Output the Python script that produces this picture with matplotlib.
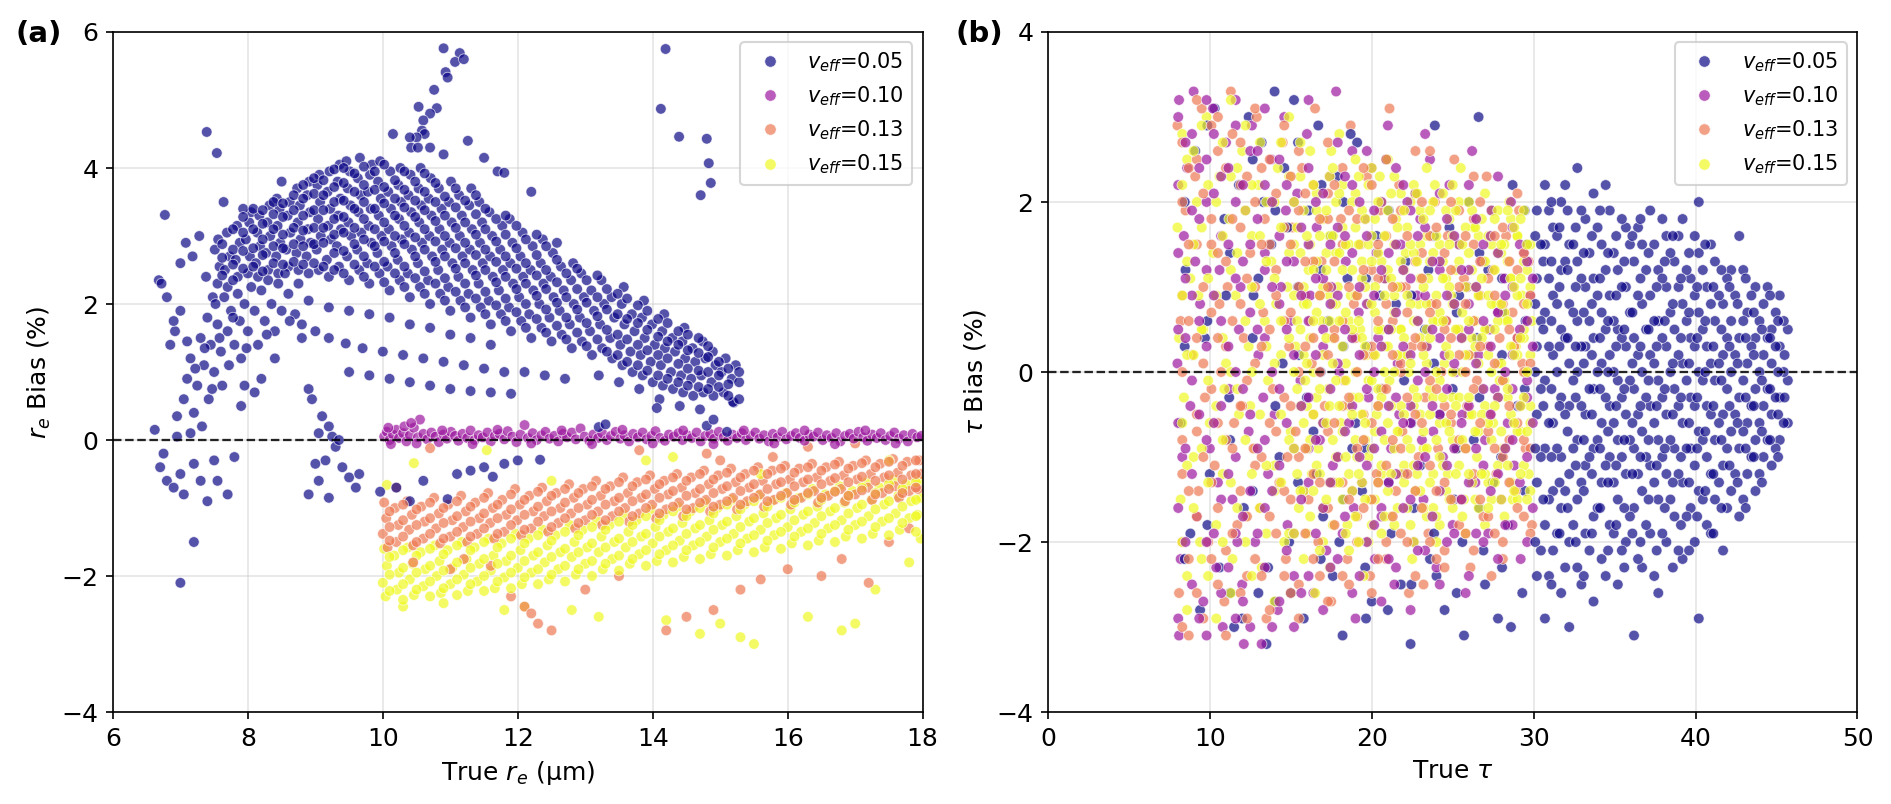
import numpy as np
import matplotlib
matplotlib.use("Agg")
from matplotlib import pyplot as plt
from matplotlib.lines import Line2D

veff_labels = ["0.05", "0.10", "0.13", "0.15"]

# ---- panel (a): true r_e vs r_e bias (%) ----
re_005 = [
    # main arc
    (7.55,2.30),(7.58,2.55),(7.51,2.80),(7.56,2.95),(7.70,2.25),(7.66,2.50),(7.73,2.70),(7.69,3.05),
    (7.85,2.40),(7.82,2.65),(7.88,2.90),(7.84,3.15),(8.00,2.45),(8.03,2.70),(7.97,2.95),(8.02,3.20),(8.05,3.35),
    (8.15,2.40),(8.12,2.60),(8.18,2.85),(8.14,3.05),(8.17,3.30),(8.30,2.50),(8.27,2.75),(8.33,3.00),(8.29,3.20),(8.32,3.45),
    (8.45,2.45),(8.42,2.70),(8.48,2.90),(8.44,3.15),(8.47,3.40),(8.43,3.55),(8.60,2.55),(8.57,2.80),(8.63,3.05),(8.59,3.30),(8.62,3.50),
    (8.75,2.50),(8.72,2.75),(8.78,2.95),(8.74,3.20),(8.77,3.45),(8.73,3.70),(8.90,2.45),(8.87,2.70),(8.93,2.90),(8.89,3.10),(8.92,3.35),(8.88,3.60),(8.91,3.80),
    (9.05,2.50),(9.02,2.80),(9.08,3.00),(9.04,3.25),(9.07,3.50),(9.03,3.75),(9.06,3.90),(9.20,2.40),(9.17,2.65),(9.23,2.95),(9.19,3.15),(9.22,3.40),(9.18,3.65),(9.21,3.95),
    (9.35,2.55),(9.32,2.85),(9.38,3.10),(9.34,3.30),(9.37,3.55),(9.33,3.80),(9.36,4.05),(9.50,2.35),(9.47,2.70),(9.53,3.00),(9.49,3.20),(9.52,3.45),(9.48,3.70),(9.51,3.95),(9.46,4.10),
    (9.65,2.50),(9.62,2.80),(9.68,3.05),(9.64,3.35),(9.67,3.60),(9.63,3.85),(9.66,4.15),(9.80,2.30),(9.77,2.60),(9.83,2.90),(9.79,3.15),(9.82,3.40),(9.78,3.65),(9.81,3.90),(9.84,4.05),
    (9.95,2.45),(9.92,2.75),(9.98,3.00),(9.94,3.30),(9.97,3.55),(9.93,3.80),(9.96,4.10),(10.10,2.20),(10.07,2.55),(10.13,2.85),(10.09,3.10),(10.12,3.40),(10.08,3.65),(10.11,3.95),
    (10.25,2.35),(10.22,2.65),(10.28,2.95),(10.24,3.25),(10.27,3.50),(10.23,3.75),(10.26,4.00),(10.40,2.10),(10.37,2.45),(10.43,2.80),(10.39,3.05),(10.42,3.35),(10.38,3.60),(10.41,3.90),
    (10.55,2.25),(10.52,2.60),(10.58,2.90),(10.54,3.20),(10.57,3.45),(10.53,3.70),(10.56,4.00),(10.70,2.00),(10.67,2.35),(10.73,2.70),(10.69,3.00),(10.72,3.30),(10.68,3.55),(10.71,3.85),
    (10.85,2.15),(10.82,2.50),(10.88,2.80),(10.84,3.10),(10.87,3.40),(10.83,3.70),(11.00,1.90),(10.97,2.25),(11.03,2.60),(10.99,2.90),(11.02,3.20),(10.98,3.50),(11.01,3.80),
    (11.15,2.05),(11.12,2.40),(11.18,2.70),(11.14,3.00),(11.17,3.30),(11.13,3.60),(11.30,1.80),(11.27,2.15),(11.33,2.50),(11.29,2.80),(11.32,3.10),(11.28,3.45),(11.31,3.70),
    (11.45,1.95),(11.42,2.30),(11.48,2.60),(11.44,2.90),(11.47,3.20),(11.43,3.50),(11.60,1.70),(11.57,2.05),(11.63,2.40),(11.59,2.70),(11.62,3.00),(11.58,3.35),
    (11.75,1.85),(11.72,2.20),(11.78,2.50),(11.74,2.80),(11.77,3.15),(11.90,1.60),(11.87,1.95),(11.93,2.30),(11.89,2.60),(11.92,2.90),(11.88,3.25),
    (12.05,1.75),(12.02,2.10),(12.08,2.40),(12.04,2.70),(12.07,3.05),(12.20,1.50),(12.17,1.85),(12.23,2.20),(12.19,2.50),(12.22,2.85),
    (12.35,1.65),(12.32,2.00),(12.38,2.30),(12.34,2.60),(12.37,2.95),(12.50,1.45),(12.47,1.80),(12.53,2.10),(12.49,2.40),(12.52,2.75),
    (12.65,1.55),(12.62,1.90),(12.68,2.20),(12.64,2.55),(12.80,1.35),(12.77,1.70),(12.83,2.00),(12.79,2.35),(12.82,2.60),
    (12.95,1.45),(12.92,1.80),(12.98,2.10),(12.94,2.45),(13.10,1.25),(13.07,1.60),(13.13,1.90),(13.09,2.20),
    (13.25,1.35),(13.22,1.70),(13.28,2.00),(13.24,2.35),(13.40,1.20),(13.37,1.50),(13.43,1.80),(13.39,2.10),
    (13.55,1.10),(13.52,1.40),(13.58,1.70),(13.54,2.00),(13.57,2.25),(13.70,1.00),(13.67,1.30),(13.73,1.60),(13.69,1.85),
    (13.85,0.95),(13.82,1.25),(13.88,1.50),(13.84,1.80),(13.87,2.05),(14.00,0.85),(13.97,1.15),(14.03,1.40),(13.99,1.70),
    (14.15,0.80),(14.12,1.10),(14.18,1.35),(14.14,1.60),(14.17,1.85),(14.30,0.75),(14.27,1.00),(14.33,1.30),(14.29,1.50),
    (14.45,0.70),(14.42,0.95),(14.48,1.20),(14.44,1.45),(14.47,1.65),(14.60,0.65),(14.57,0.90),(14.63,1.15),(14.59,1.35),
    (14.75,0.70),(14.72,0.95),(14.78,1.20),(14.74,1.45),(14.90,0.65),(14.87,0.85),(14.93,1.10),(14.89,1.30),
    (15.05,0.70),(15.02,1.00),(15.08,1.20),(15.20,0.55),(15.17,0.90),(15.23,1.10),
    # rising branch on the left
    (6.62,0.15),(6.68,2.35),(6.72,2.30),(6.80,2.10),(6.85,1.40),(6.92,1.60),(6.95,0.35),(7.00,2.60),(7.05,0.60),(7.08,2.90),
    (7.10,0.90),(7.15,1.20),(7.18,2.70),(7.20,0.40),(7.25,0.80),(7.28,3.00),(7.30,1.50),(7.32,0.20),(7.35,1.10),(7.38,2.40),
    (7.40,1.80),(7.42,0.60),(7.45,1.40),(7.48,2.10),(7.50,1.00),(7.52,2.00),(7.55,1.70),(7.60,1.30),(7.62,0.80),(7.65,2.10),
    (7.70,1.60),(7.72,1.10),(7.75,1.90),(7.80,1.40),(7.85,2.15),(7.88,1.75),(7.90,1.20),(7.95,2.00),(8.00,1.60),(8.05,2.25),
    (8.10,1.90),(8.15,1.40),(8.20,2.20),(8.25,1.75),(8.30,2.35),(8.35,2.00),(8.40,1.60),(8.45,2.30),(8.50,1.90),(8.55,2.45),
    (8.60,2.15),(8.70,1.85),(8.75,2.30),(8.80,1.50),(8.40,1.20),(8.20,0.90),(8.10,0.70),(7.90,0.50),(7.95,0.80),(7.00,1.90),
    (6.90,1.75),(7.10,1.45),(7.22,1.05),(7.36,1.35),(7.58,1.50),(7.78,1.80),(7.98,1.35),(8.28,1.55),(8.62,1.75),(7.47,0.75),
    # stripes under the arc
    (8.90,2.05),(9.20,1.95),(9.50,1.90),(9.80,1.85),(10.10,1.80),(10.40,1.70),(10.70,1.65),(11.00,1.55),(11.30,1.50),(11.60,1.40),
    (8.80,1.70),(9.00,1.60),(9.20,1.50),(9.45,1.42),(9.70,1.35),(10.00,1.30),(10.30,1.25),(10.60,1.20),(10.90,1.15),(11.20,1.10),
    (11.50,1.05),(11.80,1.00),(12.10,1.00),(12.40,0.95),(12.70,0.90),
    (9.50,1.00),(9.80,0.95),(10.10,0.90),(10.40,0.85),(10.70,0.80),(11.00,0.75),(11.30,0.72),(11.60,0.70),(11.90,0.68),
    (13.20,0.95),(13.50,0.85),(13.80,0.75),(14.10,0.60),(14.40,0.50),(14.70,0.45),
    # near / below zero
    (6.70,-0.40),(6.75,-0.20),(6.80,-0.60),(6.90,-0.70),(7.00,-0.50),(7.05,-0.80),(7.00,-2.10),(7.20,-1.50),(7.20,-0.35),(7.30,-0.60),
    (7.40,-0.90),(7.50,-0.30),(7.55,-0.60),(7.70,-0.80),(7.80,-0.25),(6.95,0.05),(7.15,0.10),
    (8.90,0.75),(8.95,0.60),(9.05,0.10),(9.10,0.35),(9.20,0.20),(9.25,0.05),(9.15,-0.30),(9.00,-0.35),(9.05,-0.60),(9.30,-0.10),
    (9.40,-0.40),(9.50,-0.55),(9.60,-0.70),(9.65,-0.50),(9.20,-0.85),(8.90,-0.80),(9.35,0.00),
    (9.96,-0.76),(10.20,-0.70),(10.40,-0.90),(10.60,-0.60),(10.96,-0.87),(11.10,-0.50),(11.30,-0.45),(11.50,-0.40),(11.63,-0.54),
    (11.80,-0.35),(12.00,-0.30),(12.33,-0.29),(13.20,0.19),(13.30,0.23),(14.06,0.47),(14.80,0.21),(14.90,0.30),(15.19,0.56),(15.10,0.12),
    # high outliers
    (7.39,4.53),(7.54,4.22),(7.64,3.50),(8.50,3.80),(6.77,3.31),(7.93,3.40),
    (10.90,5.76),(11.14,5.69),(11.07,5.56),(11.20,5.60),(10.93,5.41),(10.96,5.33),(10.76,5.15),(10.53,4.90),(10.80,4.88),(10.70,4.80),
    (10.60,4.70),(10.58,4.55),(10.62,4.50),(10.50,4.45),(10.15,4.50),(10.40,4.45),(10.42,4.30),(10.52,4.30),(10.70,4.30),(11.26,4.40),
    (10.90,4.20),(11.50,4.15),(11.70,3.95),(11.80,3.93),(12.20,3.65),
    (14.19,5.75),(14.12,4.87),(14.39,4.46),(14.80,4.43),(14.83,4.07),(14.86,3.78),(14.71,3.60),
]
# extra read-offs of the dense arc, as (x, [y, ...]) columns
re_005_cols = [
    (7.62,[2.42,2.68,2.88]),(7.78,[2.35,2.58,2.80,3.10]),(7.93,[2.52,2.78,3.05,3.28]),(8.08,[2.55,2.82,3.10,3.40]),
    (8.22,[2.48,2.72,2.95,3.18,3.38]),(8.38,[2.60,2.85,3.10,3.32,3.50]),(8.52,[2.58,2.82,3.02,3.28,3.48]),
    (8.68,[2.62,2.88,3.12,3.38,3.60]),(8.82,[2.58,2.85,3.08,3.30,3.55,3.75]),(8.98,[2.60,2.88,3.12,3.38,3.62,3.85]),
    (9.12,[2.55,2.90,3.12,3.38,3.60,3.82]),(9.28,[2.50,2.75,3.02,3.25,3.50,3.72,3.98]),(9.42,[2.45,2.78,3.05,3.28,3.52,3.78,4.00]),
    (9.58,[2.58,2.88,3.12,3.40,3.65,3.92]),(9.72,[2.40,2.70,2.95,3.25,3.50,3.75,4.02]),(9.88,[2.55,2.85,3.10,3.40,3.68,3.95]),
    (10.02,[2.32,2.62,2.92,3.20,3.48,3.72,4.05]),(10.18,[2.45,2.75,3.00,3.30,3.55,3.82]),(10.32,[2.25,2.55,2.88,3.15,3.42,3.68,3.95]),
    (10.48,[2.38,2.70,2.98,3.28,3.52,3.80]),(10.62,[2.15,2.48,2.80,3.10,3.38,3.65,3.92]),(10.78,[2.30,2.62,2.92,3.22,3.50,3.78]),
    (10.92,[2.05,2.38,2.70,3.00,3.30,3.58]),(11.08,[2.18,2.52,2.82,3.12,3.42,3.70]),(11.22,[1.95,2.30,2.60,2.90,3.20,3.52]),
    (11.38,[2.08,2.42,2.72,3.02,3.32,3.60]),(11.52,[1.85,2.18,2.50,2.80,3.10,3.40]),(11.68,[1.98,2.32,2.62,2.92,3.25]),
    (11.82,[1.75,2.08,2.40,2.70,3.02,3.30]),(11.98,[1.88,2.22,2.52,2.82,3.15]),(12.12,[1.65,2.00,2.30,2.60,2.95]),
    (12.28,[1.78,2.12,2.42,2.72,3.02]),(12.42,[1.58,1.92,2.22,2.50,2.85]),(12.58,[1.68,2.02,2.32,2.65,2.90]),
    (12.72,[1.48,1.80,2.10,2.45]),(12.88,[1.58,1.92,2.22,2.52]),(13.02,[1.38,1.72,2.02,2.35]),(13.18,[1.48,1.82,2.10,2.42]),
    (13.32,[1.30,1.62,1.92,2.22]),(13.48,[1.25,1.55,1.85,2.15]),(13.62,[1.15,1.48,1.78,2.08]),(13.78,[1.10,1.40,1.72,1.98]),
    (13.92,[1.02,1.32,1.62,1.90]),(14.08,[0.95,1.25,1.52,1.78]),(14.22,[0.90,1.20,1.45,1.72]),(14.38,[0.85,1.12,1.40,1.60]),
    (14.52,[0.80,1.05,1.32,1.55]),(14.68,[0.78,1.02,1.28,1.50]),(14.82,[0.75,1.00,1.22,1.38]),(14.98,[0.78,0.95,1.15]),
    (15.12,[0.65,0.82,1.05]),(15.28,[0.60,0.85,1.00]),
]

re_010 = [
    (10.02,0.05),(10.06,0.12),(10.10,0.00),(10.15,0.08),(10.20,0.15),(10.24,0.03),(10.30,0.10),(10.35,-0.02),(10.40,0.07),(10.46,0.18),
    (10.52,0.04),(10.55,0.30),(10.60,0.09),(10.66,0.01),(10.72,0.11),(10.78,0.05),(10.83,-0.03),(10.90,0.08),(10.95,0.02),(11.01,0.12),
    (11.07,0.06),(11.12,-0.01),(11.18,0.09),(11.25,0.03),(11.30,0.14),(11.36,0.00),(11.42,0.07),(11.48,0.04),(11.55,0.11),(11.60,-0.02),
    (11.66,0.06),(11.73,0.09),(11.80,0.01),(11.85,0.13),(11.92,0.05),(11.98,-0.03),(12.04,0.08),(12.10,0.22),(12.15,0.03),(12.22,0.10),
    (12.28,0.00),(12.35,0.07),(12.41,0.12),(12.47,0.02),(12.54,0.06),(12.60,-0.02),(12.67,0.09),(12.73,0.04),(12.80,0.11),(12.86,0.01),
    (12.93,0.17),(12.99,0.05),(13.06,-0.01),(13.12,0.08),(13.19,0.03),(13.25,0.10),(13.32,0.00),(13.38,0.06),(13.45,0.12),(13.52,0.02),
    (13.58,0.07),(13.65,-0.02),(13.71,0.09),(13.78,0.04),(13.85,0.11),(13.91,0.01),(13.98,0.06),(14.04,0.13),(14.11,0.03),(14.18,-0.01),
    (14.24,0.08),(14.31,0.05),(14.38,0.10),(14.44,0.00),(14.51,0.07),(14.58,0.03),(14.65,0.11),(14.71,-0.02),(14.78,0.06),(14.85,0.09),
    (14.91,0.02),(14.98,0.12),(15.05,0.04),(15.11,-0.01),(15.18,0.08),(15.25,0.03),(15.32,0.10),(15.38,0.00),(15.45,0.06),(15.52,0.11),
    (15.58,0.02),(15.65,0.07),(15.72,-0.02),(15.78,0.09),(15.85,0.04),(15.92,0.12),(15.98,0.01),(16.05,0.06),(16.12,0.10),(16.18,0.03),
    (16.25,-0.01),(16.32,0.08),(16.38,0.05),(16.45,0.11),(16.52,0.00),(16.58,0.07),(16.65,0.03),(16.72,0.10),(16.78,-0.02),(16.85,0.06),
    (16.92,0.09),(16.98,0.02),(17.05,0.12),(17.12,0.04),(17.18,-0.01),(17.25,0.08),(17.32,0.03),(17.38,0.10),(17.45,0.00),(17.52,0.06),
    (17.58,0.11),(17.65,0.02),(17.72,0.07),(17.78,-0.02),(17.85,0.09),(17.92,0.04),(17.98,0.06),
    (10.12,-0.06),(10.50,-0.05),(10.88,0.14),(11.33,-0.06),(11.70,0.15),(12.20,-0.05),(12.65,0.14),(13.10,-0.06),(13.55,0.15),(14.00,-0.05),
    (14.45,0.14),(14.90,-0.06),(15.35,0.14),(15.80,-0.05),(16.25,0.14),(16.70,-0.06),(17.15,0.14),(17.60,-0.05),(10.32,0.20),(10.42,0.25),
    (10.08,0.18),
]

re_013 = [
    (10.02,-0.92),(10.05,-1.15),(10.00,-1.38),(10.07,-1.58),(10.18,-1.00),(10.23,-1.25),(10.20,-1.50),
    (10.36,-0.90),(10.43,-1.10),(10.39,-1.32),(10.45,-1.55),(10.57,-0.98),(10.62,-1.20),(10.60,-1.45),
    (10.76,-0.85),(10.83,-1.08),(10.79,-1.30),(10.85,-1.52),(10.97,-0.95),(11.03,-1.18),(11.00,-1.42),
    (11.16,-0.82),(11.23,-1.05),(11.19,-1.28),(11.25,-1.50),(11.37,-0.92),(11.43,-1.15),(11.40,-1.38),
    (11.56,-0.78),(11.63,-1.00),(11.59,-1.22),(11.65,-1.45),(11.77,-0.88),(11.83,-1.10),(11.80,-1.35),
    (11.96,-0.72),(12.03,-0.95),(11.99,-1.18),(12.05,-1.40),(12.17,-0.82),(12.23,-1.05),(12.20,-1.30),
    (12.36,-0.70),(12.43,-0.90),(12.39,-1.12),(12.45,-1.35),(12.57,-0.78),(12.63,-1.00),(12.60,-1.22),
    (12.76,-0.65),(12.83,-0.85),(12.79,-1.08),(12.85,-1.30),(12.97,-0.72),(13.03,-0.95),(13.00,-1.18),
    (13.16,-0.60),(13.23,-0.82),(13.19,-1.05),(13.25,-1.25),(13.37,-0.68),(13.43,-0.90),(13.40,-1.12),
    (13.56,-0.55),(13.63,-0.78),(13.59,-1.00),(13.65,-1.20),(13.77,-0.62),(13.83,-0.85),(13.80,-1.08),
    (13.96,-0.52),(14.03,-0.72),(13.99,-0.95),(14.05,-1.15),(14.17,-0.60),(14.23,-0.80),(14.20,-1.02),
    (14.36,-0.50),(14.43,-0.70),(14.39,-0.92),(14.45,-1.12),(14.57,-0.55),(14.63,-0.78),(14.60,-1.00),
    (14.76,-0.45),(14.83,-0.65),(14.79,-0.88),(14.85,-1.05),(14.97,-0.52),(15.03,-0.72),(15.00,-0.95),
    (15.16,-0.42),(15.23,-0.62),(15.19,-0.85),(15.25,-1.02),(15.37,-0.50),(15.43,-0.70),(15.40,-0.90),
    (15.56,-0.40),(15.63,-0.60),(15.59,-0.80),(15.65,-0.98),(15.77,-0.45),(15.83,-0.65),(15.80,-0.88),
    (15.96,-0.38),(16.03,-0.58),(15.99,-0.78),(16.05,-0.95),(16.17,-0.42),(16.23,-0.62),(16.20,-0.85),
    (16.36,-0.35),(16.43,-0.55),(16.39,-0.75),(16.45,-0.92),(16.57,-0.40),(16.63,-0.60),(16.60,-0.82),
    (16.76,-0.32),(16.83,-0.52),(16.79,-0.72),(16.85,-0.90),(16.97,-0.38),(17.03,-0.58),(17.00,-0.80),
    (17.16,-0.30),(17.23,-0.50),(17.19,-0.70),(17.25,-0.88),(17.37,-0.35),(17.43,-0.55),(17.40,-0.78),
    (17.56,-0.28),(17.63,-0.48),(17.59,-0.68),(17.65,-0.85),(17.77,-0.32),(17.83,-0.52),(17.80,-0.75),
    (17.95,-0.30),(17.98,-0.50),(17.93,-0.72),
    (10.20,-0.70),(10.70,-0.12),(11.20,-1.75),(11.60,-1.85),(11.90,-2.30),(12.10,-2.45),(12.30,-2.70),(12.50,-2.80),(12.20,-2.55),(13.00,-2.20),
    (13.50,-2.00),(13.80,-0.15),(14.20,-2.80),(14.50,-2.60),(14.80,-0.20),(14.90,-2.50),(15.00,-0.30),(15.30,-2.20),(15.60,-2.05),(15.78,-0.25),
    (16.00,-1.90),(16.50,-2.00),(16.80,-1.75),(17.20,-2.10),(17.50,-1.50),(17.80,-1.30),(16.30,-0.10),(17.00,-0.05),(10.45,-1.80),(11.00,-1.90),
]
re_013_cols = [
    (10.10,[-1.05,-1.28,-1.48]),(10.30,[-0.95,-1.18,-1.42]),(10.50,[-1.02,-1.25,-1.50]),(10.70,[-0.92,-1.15,-1.38]),
    (10.90,[-1.00,-1.22,-1.45]),(11.10,[-0.90,-1.12,-1.35]),(11.30,[-0.98,-1.20,-1.42]),(11.50,[-0.85,-1.08,-1.30]),
    (11.70,[-0.95,-1.15,-1.38]),(11.90,[-0.80,-1.02,-1.25]),(12.10,[-0.88,-1.10,-1.32]),(12.30,[-0.76,-0.98,-1.20]),
    (12.50,[-0.82,-1.05,-1.28]),(12.70,[-0.72,-0.92,-1.15]),(12.90,[-0.78,-1.00,-1.22]),(13.10,[-0.68,-0.88,-1.10]),
    (13.30,[-0.72,-0.95,-1.18]),(13.50,[-0.62,-0.85,-1.05]),(13.70,[-0.68,-0.90,-1.12]),(13.90,[-0.58,-0.80,-1.00]),
    (14.10,[-0.65,-0.85,-1.08]),(14.30,[-0.55,-0.75,-0.98]),(14.50,[-0.60,-0.82,-1.02]),(14.70,[-0.50,-0.72,-0.92]),
    (14.90,[-0.58,-0.78,-0.98]),(15.10,[-0.48,-0.68,-0.90]),(15.30,[-0.55,-0.75,-0.95]),(15.50,[-0.45,-0.65,-0.85]),
    (15.70,[-0.50,-0.72,-0.90]),(15.90,[-0.42,-0.62,-0.82]),(16.10,[-0.48,-0.68,-0.88]),(16.30,[-0.40,-0.58,-0.78]),
    (16.50,[-0.45,-0.65,-0.85]),(16.70,[-0.36,-0.56,-0.76]),(16.90,[-0.42,-0.62,-0.82]),(17.10,[-0.34,-0.54,-0.74]),
    (17.30,[-0.40,-0.60,-0.80]),(17.50,[-0.32,-0.52,-0.72]),(17.70,[-0.38,-0.58,-0.78]),(17.90,[-0.30,-0.50,-0.70]),
]

re_015 = [
    (10.02,-1.60),(10.06,-1.85),(10.00,-2.10),(10.04,-2.30),(10.17,-1.70),(10.24,-1.95),(10.21,-2.20),
    (10.37,-1.58),(10.44,-1.82),(10.40,-2.05),(10.46,-2.28),(10.56,-1.65),(10.63,-1.90),(10.60,-2.15),
    (10.77,-1.55),(10.84,-1.78),(10.80,-2.00),(10.86,-2.25),(10.96,-1.62),(11.03,-1.88),(11.00,-2.12),
    (11.17,-1.50),(11.24,-1.75),(11.20,-1.98),(11.26,-2.22),(11.36,-1.58),(11.43,-1.82),(11.40,-2.08),
    (11.57,-1.45),(11.64,-1.70),(11.60,-1.92),(11.66,-2.18),(11.76,-1.52),(11.83,-1.78),(11.80,-2.02),
    (11.97,-1.38),(12.04,-1.62),(12.00,-1.88),(12.06,-2.12),(12.16,-1.45),(12.23,-1.70),(12.20,-1.95),
    (12.37,-1.32),(12.44,-1.55),(12.40,-1.80),(12.46,-2.05),(12.56,-1.40),(12.63,-1.65),(12.60,-1.90),
    (12.77,-1.25),(12.84,-1.50),(12.80,-1.72),(12.86,-1.98),(12.96,-1.32),(13.03,-1.58),(13.00,-1.82),
    (13.17,-1.18),(13.24,-1.42),(13.20,-1.65),(13.26,-1.90),(13.36,-1.25),(13.43,-1.50),(13.40,-1.75),
    (13.57,-1.10),(13.64,-1.35),(13.60,-1.58),(13.66,-1.82),(13.76,-1.18),(13.83,-1.42),(13.80,-1.68),
    (13.97,-1.02),(14.04,-1.28),(14.00,-1.52),(14.06,-1.78),(14.16,-1.10),(14.23,-1.35),(14.20,-1.62),
    (14.37,-0.98),(14.44,-1.22),(14.40,-1.48),(14.46,-1.72),(14.56,-1.05),(14.63,-1.30),(14.60,-1.55),
    (14.77,-0.92),(14.84,-1.18),(14.80,-1.42),(14.86,-1.68),(14.96,-1.00),(15.03,-1.25),(15.00,-1.50),
    (15.17,-0.88),(15.24,-1.12),(15.20,-1.38),(15.26,-1.62),(15.36,-0.95),(15.43,-1.20),(15.40,-1.45),
    (15.57,-0.82),(15.64,-1.08),(15.60,-1.32),(15.66,-1.58),(15.76,-0.90),(15.83,-1.15),(15.80,-1.40),
    (15.97,-0.78),(16.04,-1.02),(16.00,-1.28),(16.06,-1.52),(16.16,-0.85),(16.23,-1.10),(16.20,-1.35),
    (16.37,-0.72),(16.44,-0.98),(16.40,-1.22),(16.46,-1.48),(16.56,-0.80),(16.63,-1.05),(16.60,-1.30),
    (16.77,-0.68),(16.84,-0.92),(16.80,-1.18),(16.86,-1.42),(16.96,-0.75),(17.03,-1.00),(17.00,-1.25),
    (17.17,-0.62),(17.24,-0.88),(17.20,-1.12),(17.26,-1.38),(17.36,-0.70),(17.43,-0.95),(17.40,-1.20),
    (17.57,-0.58),(17.64,-0.82),(17.60,-1.08),(17.66,-1.32),(17.76,-0.65),(17.83,-0.90),(17.80,-1.15),
    (17.94,-0.60),(17.98,-0.85),(17.92,-1.10),(17.97,-1.45),
    (10.06,-0.66),(10.46,-0.34),(11.54,-0.15),(10.30,-2.45),(10.90,-2.40),(11.80,-2.50),(12.10,-2.45),(12.80,-2.50),(13.20,-2.60),(14.20,-2.65),
    (14.70,-2.85),(15.00,-2.70),(15.30,-2.90),(15.50,-3.00),(16.30,-2.60),(16.80,-2.80),(17.00,-2.70),(17.30,-2.20),(17.80,-1.80),(12.50,-0.60),
    (13.90,-0.30),(14.30,-0.25),(15.60,-0.50),(17.50,-0.30),
]
re_015_cols = [
    (10.10,[-1.72,-1.98,-2.22]),(10.30,[-1.62,-1.88,-2.12,-2.35]),(10.50,[-1.70,-1.95,-2.20]),(10.70,[-1.60,-1.85,-2.08,-2.30]),
    (10.90,[-1.68,-1.92,-2.18]),(11.10,[-1.55,-1.80,-2.05,-2.28]),(11.30,[-1.62,-1.88,-2.12]),(11.50,[-1.50,-1.75,-2.00,-2.22]),
    (11.70,[-1.58,-1.82,-2.08]),(11.90,[-1.45,-1.70,-1.95,-2.18]),(12.10,[-1.52,-1.78,-2.02]),(12.30,[-1.40,-1.65,-1.90,-2.12]),
    (12.50,[-1.48,-1.72,-1.98]),(12.70,[-1.35,-1.60,-1.85,-2.08]),(12.90,[-1.40,-1.65,-1.90]),(13.10,[-1.28,-1.52,-1.78,-2.00]),
    (13.30,[-1.32,-1.58,-1.82]),(13.50,[-1.20,-1.45,-1.70,-1.92]),(13.70,[-1.25,-1.50,-1.75]),(13.90,[-1.12,-1.38,-1.62,-1.85]),
    (14.10,[-1.18,-1.42,-1.68]),(14.30,[-1.05,-1.30,-1.55,-1.80]),(14.50,[-1.12,-1.38,-1.62]),(14.70,[-1.00,-1.25,-1.50,-1.75]),
    (14.90,[-1.08,-1.32,-1.58]),(15.10,[-0.95,-1.20,-1.45,-1.70]),(15.30,[-1.02,-1.28,-1.52]),(15.50,[-0.90,-1.15,-1.40,-1.65]),
    (15.70,[-0.98,-1.22,-1.48]),(15.90,[-0.85,-1.10,-1.35,-1.60]),(16.10,[-0.92,-1.18,-1.42]),(16.30,[-0.80,-1.05,-1.30,-1.55]),
    (16.50,[-0.88,-1.12,-1.38]),(16.70,[-0.75,-1.00,-1.25,-1.50]),(16.90,[-0.82,-1.08,-1.32]),(17.10,[-0.70,-0.95,-1.20,-1.45]),
    (17.30,[-0.78,-1.02,-1.28]),(17.50,[-0.65,-0.90,-1.15,-1.40]),(17.70,[-0.72,-0.98,-1.22]),(17.90,[-0.62,-0.88,-1.12,-1.35]),
]

# ---- panel (b): true tau vs tau bias (%) ----
tau_005 = [
    (8.2,-0.6),(8.5,1.2),(8.8,-1.9),(9.1,2.6),(9.4,-2.8),(9.7,0.4),(10.0,-1.2),(10.3,3.1),(10.6,-2.3),(10.9,1.8),
    (11.2,-0.3),(11.5,-3.0),(11.8,2.2),(12.1,-1.6),(12.4,3.0),(12.7,0.9),(13.0,-2.6),(13.2,2.7),(13.5,-3.2),(13.8,1.5),
    (14.0,3.3),(14.3,-1.0),(14.6,2.4),(14.9,-2.0),(15.2,3.2),(15.5,0.2),(15.8,-2.9),(16.1,1.9),(16.4,-0.7),(16.7,2.9),
    (17.0,-1.7),(17.3,0.6),(17.6,-2.4),(17.9,2.3),(18.2,-3.1),(18.5,1.1),(18.8,-0.9),(19.1,2.7),(19.4,-1.4),(19.7,0.3),
    (20.0,-2.7),(20.3,1.6),(20.6,-0.2),(20.9,2.5),(21.2,-1.9),(21.5,0.8),(21.8,-2.5),(22.1,1.3),(22.4,-3.2),(22.7,2.1),
    (23.0,-1.1),(23.3,0.5),(23.6,-2.2),(23.9,2.9),(24.2,-0.5),(24.5,-2.8),(24.8,1.7),(25.1,-1.5),(25.4,0.9),(25.7,-3.1),
    (26.0,2.0),(26.3,-0.8),(26.6,3.0),(26.9,-2.1),(27.2,1.2),(27.5,-1.3),(27.8,-2.9),(28.1,0.7),(28.4,-1.8),(28.7,2.2),
    (29.0,-0.4),(29.3,-2.6),(29.6,1.5),(12.0,-2.9),(13.6,-2.3),(15.0,-2.6),(16.6,-1.2),(18.0,-2.0),(19.6,-2.3),(21.0,-2.8),
    (22.6,-1.6),(24.0,-2.4),(25.6,-2.0),(27.0,-2.5),(28.6,-3.0),(11.0,0.9),(13.0,1.1),(14.5,0.1),(16.0,-0.3),(17.5,1.6),
    (19.0,-0.6),(20.5,0.9),(22.0,-0.1),(23.5,1.2),(25.0,-0.2),(26.5,0.4),(28.0,-1.0),(29.5,0.6),(13.3,2.0),(14.8,1.7),
    (16.9,2.2),(18.7,2.8),
]
tau_005_cols = [
    (8.45,[-2.2,0.3,2.0]),(9.85,[-1.8,0.6,2.9]),(11.25,[-2.6,-0.8,1.4]),(12.65,[-1.4,0.4,2.5]),(14.05,[-2.7,-0.4,1.9]),
    (15.45,[-1.3,1.0,2.7]),(16.85,[-2.2,0.0,1.2]),(18.25,[-1.5,0.3,2.0]),(19.65,[-2.9,-0.9,1.1]),(21.05,[-1.3,0.5,1.9]),
    (22.45,[-2.5,-0.6,0.9]),(23.85,[-1.9,0.1,1.6]),(25.25,[-2.6,-0.9,0.7]),(26.65,[-1.6,-0.3,1.4]),(28.05,[-2.3,0.2,1.1]),
    (29.45,[-1.4,-0.2,1.9]),
    (30.2,[-2.4,-1.3,-0.5,0.3,1.1,1.9]),(30.7,[-2.9,-1.8,-0.9,-0.1,0.7,1.5,2.2]),(31.2,[-2.1,-1.4,-0.6,0.2,0.9,1.7]),
    (31.7,[-2.6,-1.6,-1.0,-0.3,0.5,1.2,2.0]),(32.2,[-3.0,-2.0,-1.2,-0.4,0.1,0.8,1.5]),(32.7,[-2.3,-1.5,-0.8,0.0,0.6,1.3,2.4]),
    (33.2,[-1.9,-1.1,-0.5,0.3,1.0,1.8]),(33.7,[-2.7,-1.7,-0.9,-0.2,0.4,1.1,2.1]),(34.2,[-2.2,-1.3,-0.6,0.1,0.7,1.5]),
    (34.7,[-1.8,-1.0,-0.4,0.2,0.9,1.9]),(35.2,[-2.5,-1.5,-0.8,-0.1,0.5,1.2]),(35.7,[-2.0,-1.2,-0.5,0.3,1.0,1.7]),
    (36.2,[-3.1,-1.6,-0.9,-0.2,0.4,1.3]),(36.7,[-2.3,-1.4,-0.7,0.0,0.8,1.5]),(37.2,[-1.9,-1.1,-0.4,0.2,0.9,1.9]),
    (37.7,[-2.6,-1.5,-0.8,-0.1,0.6,1.2]),(38.2,[-2.0,-1.2,-0.5,0.3,1.0,1.6]),(38.7,[-1.7,-0.9,-0.2,0.5,1.3]),
    (39.2,[-2.2,-1.3,-0.6,0.1,0.8,1.8]),(39.7,[-1.6,-0.9,-0.3,0.4,1.1]),(40.2,[-2.9,-1.4,-0.7,0.0,0.7,1.4,2.0]),
    (40.7,[-1.8,-1.0,-0.4,0.3,1.0]),(41.2,[-1.5,-0.8,-0.1,0.6,1.3]),(41.7,[-2.1,-1.1,-0.5,0.2,0.8]),
    (42.2,[-1.4,-0.7,0.0,0.6,1.2]),(42.7,[-1.7,-0.9,-0.3,0.4,1.6]),(43.2,[-1.2,-0.6,0.1,0.7]),
    (43.7,[-1.4,-0.8,-0.2,0.4,1.0]),(44.2,[-1.0,-0.4,0.2,0.8]),(44.7,[-1.1,-0.5,0.1,0.5]),
    (45.2,[-0.8,-0.3,0.3,0.9]),(45.7,[-0.6,-0.1,0.5]),
    (30.45,[-2.1,-1.0,-0.2,0.6,1.5]),(30.95,[-2.4,-1.5,-0.6,0.3,1.1,1.9]),(31.45,[-1.9,-0.9,0.0,0.8,1.6]),
    (31.95,[-2.3,-1.4,-0.5,0.4,1.3,2.2]),(32.45,[-1.8,-0.9,-0.1,0.7,1.5]),(32.95,[-2.5,-1.3,-0.4,0.3,1.1,1.9]),
    (33.45,[-2.1,-1.0,-0.2,0.6,1.4]),(33.95,[-1.6,-0.8,0.0,0.9,1.7]),(34.45,[-2.4,-1.1,-0.3,0.5,1.2,2.2]),
    (34.95,[-1.9,-1.3,-0.6,0.0,0.6,1.4]),(35.45,[-2.1,-1.0,-0.3,0.4,1.0,1.8]),(35.95,[-1.7,-0.8,-0.1,0.7,1.5]),
    (36.45,[-2.2,-1.2,-0.5,0.2,0.9,1.7]),(36.95,[-1.8,-1.0,-0.3,0.5,1.2]),(37.45,[-2.4,-1.3,-0.6,0.1,0.6,1.5]),
    (37.95,[-1.9,-1.0,-0.3,0.4,1.1,1.8]),(38.45,[-1.5,-0.8,0.0,0.7,1.4]),(38.95,[-2.1,-1.2,-0.4,0.2,1.0,1.6]),
    (39.45,[-1.7,-0.9,-0.1,0.6,1.2]),(39.95,[-2.0,-1.1,-0.4,0.3,0.9,1.6]),(40.45,[-1.5,-0.8,-0.1,0.5,1.2]),
    (40.95,[-1.9,-1.2,-0.5,0.1,0.8,1.5]),(41.45,[-1.3,-0.6,0.1,0.9]),(41.95,[-1.6,-0.9,-0.2,0.4,1.1]),
    (42.45,[-1.2,-0.5,0.2,0.9]),(42.95,[-1.5,-0.7,-0.1,0.6,1.2]),(43.45,[-1.0,-0.4,0.3,0.9]),
    (43.95,[-1.2,-0.6,0.0,0.6]),(44.45,[-0.8,-0.2,0.4,1.0]),(44.95,[-0.9,-0.3,0.3,0.7]),(45.45,[-0.6,0.0,0.6]),
]
tau_005_cols2 = [
    (30.1,[-2.0,-0.9,0.0,0.8,1.6]),(30.6,[-1.5,-0.4,0.5,1.3]),(31.1,[-2.5,-1.0,-0.2,0.6,1.3,2.0]),
    (31.6,[-1.9,-1.3,-0.4,0.3,1.0,1.7]),(32.1,[-1.6,-0.7,0.4,1.2,1.9]),(32.6,[-2.0,-1.1,-0.3,0.3,1.0,1.7]),
    (33.1,[-2.4,-1.4,-0.8,0.1,0.7,1.4]),(33.6,[-1.9,-1.2,-0.5,0.2,0.8,1.6]),(34.1,[-1.6,-0.9,-0.2,0.4,1.1,1.9]),
    (34.6,[-2.1,-1.3,-0.7,0.0,0.6,1.4]),(35.1,[-1.8,-1.1,-0.4,0.3,0.9,1.6]),(35.6,[-2.3,-1.6,-0.8,-0.2,0.5,1.3]),
    (36.1,[-1.9,-1.2,-0.6,0.1,0.7,1.6]),(36.6,[-2.0,-1.0,-0.4,0.3,1.1,1.8]),(37.1,[-1.5,-0.8,-0.1,0.5,1.4]),
    (37.6,[-2.1,-1.1,-0.4,0.3,1.0]),(38.1,[-1.6,-0.9,-0.2,0.6,1.3]),(38.6,[-2.3,-1.3,-0.5,0.1,0.8,1.6]),
    (39.1,[-1.8,-1.0,-0.3,0.4,1.1]),(39.6,[-2.1,-1.3,-0.6,0.1,0.7,1.4]),(40.1,[-1.7,-0.9,-0.3,0.4,1.0]),
    (40.6,[-1.4,-0.7,0.0,0.6,1.5]),(41.1,[-1.9,-1.2,-0.4,0.3,1.0]),(41.6,[-1.6,-0.8,-0.1,0.5,1.2]),
    (42.1,[-1.1,-0.4,0.3,1.0]),(42.6,[-1.3,-0.6,0.1,0.8]),(43.1,[-1.6,-0.9,-0.3,0.4,1.1]),
    (43.6,[-1.0,-0.4,0.2,0.7]),(44.1,[-1.3,-0.7,-0.1,0.5]),(44.6,[-0.8,-0.2,0.4,0.9]),
    (45.1,[-1.0,-0.5,0.0,0.6]),(45.5,[-0.3,0.2]),
]

tau_010 = [
    (8.1,3.2),(8.3,-1.0),(8.0,0.1),(8.2,-2.2),(8.4,1.6),(8.1,-3.1),(8.6,2.4),(8.8,-0.4),(9.0,3.3),(9.2,-1.7),
    (9.4,0.8),(9.6,-2.7),(9.8,2.0),(10.0,-0.9),(10.2,3.1),(10.4,-2.3),(10.6,1.2),(10.8,-3.0),(11.0,2.7),(11.2,-0.2),
    (11.4,-1.5),(11.6,3.2),(11.8,0.5),(12.0,-2.5),(12.2,1.9),(12.4,-0.7),(12.6,2.9),(12.8,-2.0),(13.0,0.2),(13.2,-3.2),
    (13.4,1.4),(13.6,-1.2),(13.8,2.5),(14.0,-0.5),(14.2,-2.8),(14.4,1.0),(14.6,3.0),(14.8,-1.8),(15.0,0.6),(15.2,-2.4),
    (15.4,2.1),(15.6,-0.1),(15.8,-1.4),(16.0,2.8),(16.2,0.9),(16.4,-2.6),(16.6,1.7),(16.8,-0.8),(17.0,0.3),(17.2,-2.1),
    (17.4,2.3),(17.6,-1.1),(17.8,3.3),(18.0,0.0),(18.2,-1.9),(18.4,1.3),(18.6,-0.6),(18.8,2.6),(19.0,-2.9),(19.2,0.7),
    (19.4,-1.3),(19.6,1.8),(19.8,-0.3),(20.0,2.4),(20.2,-2.2),(20.4,0.4),(20.6,-1.6),(20.8,1.1),(21.0,2.9),(21.2,-0.9),
    (21.4,-2.5),(21.6,0.1),(21.8,1.5),(22.0,-1.2),(22.2,2.0),(22.4,-0.4),(22.6,-2.0),(22.8,0.9),(23.0,1.8),(23.2,-1.5),
    (23.4,0.3),(23.6,2.5),(23.8,-0.7),(24.0,-2.3),(24.2,1.2),(24.4,-1.0),(24.6,0.6),(24.8,2.2),(25.0,-1.8),(25.2,0.0),
    (25.4,1.5),(25.6,-0.5),(25.8,-2.6),(26.0,0.8),(26.2,2.6),(26.4,-1.3),(26.6,0.2),(26.8,1.3),(27.0,-0.8),(27.2,-1.9),
    (27.4,1.9),(27.6,-0.2),(27.8,0.7),(28.0,-1.5),(28.2,1.1),(28.4,-0.6),(28.6,2.0),(28.8,-1.1),(29.0,0.4),(29.2,-2.2),
    (29.4,1.4),(29.6,-0.3),(29.8,0.9),(9.1,1.3),(10.5,-1.3),(11.9,1.0),(13.3,-0.3),(14.7,1.9),(16.1,-0.9),(17.5,1.0),
    (18.9,-1.6),(20.3,1.4),(21.7,-0.5),(23.1,-0.8),(24.5,0.2),(25.9,1.0),(27.3,0.5),(28.7,-0.2),(11.7,-2.0),(12.1,-3.2),
]
tau_010_cols = [
    (8.05,[-2.9,-1.6,-0.6,0.5,1.4,2.2,3.0]),(8.9,[-2.5,-1.2,-0.1,0.9,1.9,2.8]),(9.8,[-3.1,-2.0,-0.8,0.3,1.2,2.5,3.2]),
    (10.7,[-2.6,-1.5,-0.4,0.6,1.6,2.3]),(11.6,[-2.9,-1.9,-1.0,0.0,1.1,2.0,2.9]),(12.5,[-3.0,-1.4,-0.5,0.7,1.5,2.6]),
    (13.4,[-2.3,-1.6,-0.8,0.4,1.2,2.2,3.1]),(14.3,[-2.7,-1.1,-0.2,0.8,1.6,2.5]),(15.2,[-3.0,-1.9,-0.9,0.2,1.3,2.0]),
    (16.1,[-2.4,-1.3,-0.3,0.6,1.5,2.4,3.2]),(17.0,[-2.8,-1.6,-0.6,0.5,1.1,2.1]),(17.9,[-2.2,-1.0,0.1,0.9,1.7,2.7]),
    (18.8,[-2.6,-1.4,-0.4,0.4,1.4,2.2]),(19.7,[-2.0,-1.1,-0.2,0.8,1.6,2.6]),(20.6,[-2.7,-1.7,-0.7,0.3,1.2,2.0]),
    (21.5,[-2.3,-1.2,-0.3,0.7,1.5,2.4]),(22.4,[-2.8,-1.5,-0.6,0.2,1.1,1.9]),(23.3,[-2.1,-1.0,0.0,0.9,1.7,2.8]),
    (24.2,[-2.5,-1.4,-0.5,0.4,1.3,2.1]),(25.1,[-1.9,-0.9,0.1,0.8,1.6]),(26.0,[-2.4,-1.3,-0.4,0.5,1.2,2.2]),
    (26.9,[-2.0,-1.1,-0.2,0.6,1.5]),(27.8,[-2.2,-1.2,-0.3,0.7,1.4,2.3]),(28.7,[-1.8,-0.8,0.2,1.0,1.7]),
    (29.6,[-2.0,-1.0,-0.1,0.6,1.3]),
]
tau_010_cols2 = [
    (8.5,[-2.0,-0.9,0.4,1.1,2.7]),(9.35,[-2.9,-0.5,0.6,1.8,2.4]),(10.25,[-1.9,-0.6,0.9,2.1,2.8]),(11.15,[-2.3,-1.2,0.3,1.5,2.4]),
    (12.05,[-2.7,-1.7,-0.2,1.3,2.2]),(12.95,[-1.9,-0.9,0.5,1.8,2.6]),(13.85,[-3.0,-1.4,0.0,1.0,2.0]),(14.75,[-2.1,-0.6,0.5,1.3,2.2]),
    (15.65,[-2.6,-1.5,-0.4,0.9,1.7]),(16.55,[-1.9,-0.8,0.2,1.1,2.0]),(17.45,[-2.3,-1.3,-0.2,0.8,1.5]),(18.35,[-1.7,-0.7,0.5,1.6,2.3]),
    (19.25,[-2.4,-1.0,0.2,1.0,2.0]),(20.15,[-1.8,-0.9,0.0,0.9,1.9]),(21.05,[-2.2,-1.3,-0.4,0.5,1.4]),(21.95,[-1.6,-0.6,0.3,1.2,2.2]),
    (22.85,[-2.1,-1.1,-0.1,0.6,1.6]),(23.75,[-1.7,-0.4,0.5,1.3]),(24.65,[-2.0,-1.1,-0.2,0.9,1.8]),(25.55,[-1.5,-0.6,0.4,1.2]),
    (26.45,[-1.9,-0.9,0.1,1.0,1.8]),(27.35,[-1.4,-0.5,0.3,1.6]),(28.25,[-1.8,-0.9,0.0,0.9]),(29.15,[-1.3,-0.4,0.5,1.5]),
    (29.95,[-1.6,-0.6,0.3,1.1]),
]

tau_013 = [
    (8.0,2.9),(8.2,0.6),(8.1,-2.6),(8.3,-0.8),(8.5,1.9),(8.7,-3.1),(8.9,0.2),(9.1,2.3),(9.3,-1.4),(9.5,3.1),
    (9.7,-0.3),(9.9,-2.0),(10.1,1.5),(10.3,-1.1),(10.5,2.6),(10.7,0.0),(10.9,-2.7),(11.1,1.0),(11.3,3.3),(11.5,-0.6),
    (11.7,-1.8),(11.9,2.2),(12.1,0.4),(12.3,-2.4),(12.5,1.4),(12.7,-0.9),(12.9,3.0),(13.1,-1.6),(13.3,0.7),(13.5,-2.9),
    (13.7,2.0),(13.9,-0.2),(14.1,1.2),(14.3,-1.3),(14.5,2.7),(14.7,-2.2),(14.9,0.3),(15.1,1.7),(15.3,-0.7),(15.5,-2.5),
    (15.7,2.4),(15.9,0.9),(16.1,-1.5),(16.3,0.1),(16.5,3.1),(16.7,-2.0),(16.9,1.3),(17.1,-0.4),(17.3,2.1),(17.5,-2.7),
    (17.7,0.5),(17.9,-1.0),(18.1,1.8),(18.3,-0.1),(18.5,-2.2),(18.7,2.9),(18.9,0.8),(19.1,-1.7),(19.3,1.5),(19.5,-0.5),
    (19.7,2.3),(19.9,-2.4),(20.1,0.2),(20.3,-1.2),(20.5,1.9),(20.7,-0.2),(20.9,-2.0),(21.1,3.1),(21.3,0.6),(21.5,-1.4),
    (21.7,2.2),(21.9,-0.7),(22.1,1.0),(22.3,-2.6),(22.5,0.3),(22.7,2.6),(22.9,-1.0),(23.1,1.4),(23.3,-0.3),(23.5,-1.9),
    (23.7,0.8),(23.9,2.0),(24.1,-0.9),(24.3,0.0),(24.5,-2.1),(24.7,1.6),(24.9,-0.6),(25.1,2.5),(25.3,0.5),(25.5,-1.5),
    (25.7,1.1),(25.9,-0.4),(26.1,-2.3),(26.3,1.8),(26.5,-0.1),(26.7,0.9),(26.9,-1.7),(27.1,2.3),(27.3,-0.5),(27.5,1.2),
    (27.7,-1.2),(27.9,0.4),(28.1,-2.0),(28.3,1.6),(28.5,-0.8),(28.7,0.7),(28.9,-1.4),(29.1,1.9),(29.3,0.1),(29.5,-0.9),
    (29.7,1.3),(29.9,-1.8),(9.2,-0.5),(10.6,0.8),(12.0,-0.4),(13.4,1.8),(14.8,-1.0),(16.2,0.6),(17.6,-1.3),(19.0,0.4),
    (20.4,1.1),(21.8,0.0),(23.2,-2.5),(24.6,0.6),(26.0,0.2),(27.4,-2.4),(28.8,0.3),
]
tau_013_cols = [
    (8.3,[-3.0,-2.0,-1.2,0.0,0.9,2.0,2.7]),(9.2,[-2.6,-1.7,-0.7,0.4,1.5,2.5,3.2]),(10.1,[-2.2,-1.3,-0.2,0.7,1.8,2.9]),
    (11.0,[-3.1,-2.1,-0.8,0.3,1.3,2.4]),(11.9,[-2.6,-1.4,-0.4,0.8,1.7,2.7]),(12.8,[-2.2,-1.1,0.1,1.0,2.0,3.1]),
    (13.7,[-2.8,-1.7,-0.6,0.5,1.5,2.5]),(14.6,[-2.4,-1.4,-0.3,0.6,1.7,2.9]),(15.5,[-2.9,-1.0,0.0,1.0,1.9,2.6]),
    (16.4,[-2.2,-1.2,-0.5,0.4,1.3,2.2]),(17.3,[-2.7,-1.6,-0.7,0.2,1.0,1.8,2.7]),(18.2,[-2.4,-1.3,-0.4,0.6,1.5,2.4]),
    (19.1,[-2.0,-0.9,0.0,0.9,1.8]),(20.0,[-2.6,-1.5,-0.6,0.3,1.2,2.2]),(20.9,[-2.2,-1.1,-0.2,0.8,1.6,2.5]),
    (21.8,[-1.9,-0.9,0.1,1.0,1.9]),(22.7,[-2.4,-1.4,-0.5,0.4,1.3,2.1]),(23.6,[-2.0,-1.1,-0.1,0.7,1.6,2.6]),
    (24.5,[-2.3,-1.3,-0.4,0.5,1.4]),(25.4,[-1.8,-0.8,0.2,1.0,1.9]),(26.3,[-2.1,-1.2,-0.2,0.6,1.5,2.3]),
    (27.2,[-1.7,-0.7,0.3,1.1]),(28.1,[-2.2,-1.0,-0.1,0.8,1.7]),(29.0,[-1.6,-0.6,0.4,1.2,2.1]),
    (29.8,[-1.9,-0.9,0.1,0.9]),
]
tau_013_cols2 = [
    (8.7,[-2.2,-1.4,0.6,1.5,2.4]),(9.6,[-2.9,-1.0,0.1,1.0,2.1]),(10.5,[-2.5,-1.6,-0.6,0.4,1.4,3.0]),(11.4,[-1.9,-0.9,0.6,1.8,2.8]),
    (12.3,[-2.9,-1.7,-0.1,1.1,2.3]),(13.2,[-2.4,-1.0,0.3,1.5,2.4]),(14.1,[-1.9,-0.7,0.9,2.1]),(15.0,[-2.6,-1.5,-0.4,0.7,1.5,2.3]),
    (15.9,[-1.9,-0.9,0.3,1.3,2.1]),(16.8,[-2.4,-1.3,0.0,0.9,1.8]),(17.7,[-1.8,-0.6,0.4,1.3,2.2]),(18.6,[-2.5,-1.5,-0.3,1.0,1.9]),
    (19.5,[-1.6,-0.8,0.2,1.2,2.4]),(20.4,[-2.2,-1.3,-0.4,0.6,1.5]),(21.3,[-1.7,-0.8,0.2,1.0,1.8]),(22.2,[-2.0,-1.2,-0.3,0.7,1.6]),
    (23.1,[-1.6,-0.6,0.3,1.1,2.0]),(24.0,[-2.2,-1.4,-0.2,0.8,1.7]),(24.9,[-1.5,-0.5,0.4,1.2,2.0]),(25.8,[-1.9,-0.9,0.0,0.8,1.6]),
    (26.7,[-1.5,-0.6,0.3,1.3,2.0]),(27.6,[-1.9,-0.9,0.1,0.9,1.6]),(28.5,[-1.3,-0.4,0.5,1.3]),(29.4,[-1.7,-0.8,0.0,0.8,1.4]),
]

tau_015 = [
    (8.0,1.7),(8.2,-1.5),(8.1,0.4),(8.3,2.8),(8.4,-0.3),(8.6,-2.4),(8.8,1.1),(9.0,-1.0),(9.2,2.0),(9.4,-2.0),
    (9.6,0.5),(9.8,3.0),(10.0,-0.6),(10.2,1.4),(10.4,-2.9),(10.6,2.3),(10.8,-1.2),(11.0,0.1),(11.2,1.8),(11.4,-2.2),
    (11.6,0.9),(11.8,-0.5),(12.0,2.6),(12.2,-1.7),(12.4,0.3),(12.6,1.6),(12.8,-0.9),(13.0,2.2),(13.2,-2.3),(13.4,0.6),
    (13.6,-0.1),(13.8,1.3),(14.0,-1.4),(14.2,2.4),(14.4,0.2),(14.6,-2.0),(14.8,1.0),(9.3,0.9),(10.9,-0.2),(12.5,-0.4),
    (14.1,0.8),
    (15.0,-0.7),(15.2,1.5),(15.3,0.3),(15.5,-1.6),(15.6,2.3),(15.8,0.8),(16.0,-0.4),(16.1,1.2),(16.3,-1.2),(16.4,0.0),
    (16.6,1.9),(16.7,-0.9),(16.9,0.6),(17.0,-2.0),(17.2,1.4),(17.3,-0.2),(17.5,2.6),(17.6,0.4),(17.8,-1.3),(17.9,1.0),
    (18.1,-0.6),(18.2,1.7),(18.4,0.1),(18.5,-1.8),(18.7,0.9),(18.8,-0.3),(19.0,2.1),(19.1,-1.0),(19.3,0.5),(19.4,1.3),
    (19.6,-0.8),(19.7,0.2),(19.9,-1.5),(20.0,1.6),(20.2,0.7),(20.3,-0.5),(20.5,2.3),(20.6,-1.2),(20.8,0.3),(20.9,1.1),
    (21.1,-0.1),(21.2,-1.7),(21.4,0.9),(21.5,1.8),(21.7,-0.7),(21.8,0.5),(22.0,-1.1),(22.1,1.4),(22.3,0.0),(22.4,2.0),
    (22.6,-0.4),(22.7,-1.4),(22.9,0.8),(23.0,1.5),(23.2,-0.9),(23.3,0.3),(23.5,1.1),(23.6,-0.2),(23.8,-1.6),(23.9,2.2),
    (24.1,0.6),(24.2,-0.6),(24.4,1.3),(24.5,0.1),(24.7,-1.2),(24.8,1.8),(25.0,-0.3),(25.1,0.8),(25.3,-0.9),(25.4,1.5),
    (25.6,0.4),(25.7,-1.5),(25.9,1.0),(26.0,-0.5),(26.2,0.2),(26.3,1.7),(26.5,-1.0),(26.6,0.9),(26.8,-0.2),(26.9,1.3),
    (27.1,0.5),(27.2,-1.3),(27.4,1.9),(27.5,-0.6),(27.7,0.8),(27.8,0.1),(28.0,1.4),(28.1,-0.9),(28.3,0.6),(28.4,-0.3),
    (28.6,1.1),(28.7,-1.5),(28.9,0.3),(29.0,1.6),(29.2,-0.7),(29.3,0.9),(29.5,0.0),(29.6,1.2),(29.8,-0.4),(29.9,0.6),
    (16.5,-2.6),(18.0,2.8),(19.5,-2.4),(21.0,2.5),(22.5,-2.2),(24.0,-2.0),(25.5,2.4),(27.0,-1.8),(28.5,2.0),(29.7,-1.2),
    (15.9,-0.1),(17.4,0.9),(18.9,0.4),(20.4,-0.2),(21.9,0.2),(23.4,0.5),(24.9,0.9),(26.4,0.6),(27.9,-0.1),(29.4,0.4),
]
tau_015_cols = [
    (8.6,[-2.8,-1.1,0.2,1.3,2.5]),(9.5,[-2.2,-0.9,0.5,1.7,2.9]),(10.4,[-1.8,-0.4,0.9,2.0]),(11.3,[-2.6,-1.3,0.0,1.2,2.3,3.2]),
    (12.2,[-2.0,-0.8,0.6,1.9,2.9]),(13.1,[-1.6,-0.5,0.8,1.6,2.7]),(14.0,[-2.7,-1.1,0.1,1.1,2.0]),(14.9,[-1.9,-0.8,0.4,1.4,2.3,3.0]),
    (15.4,[-1.2,-0.2,0.6,1.7]),(15.8,[-2.2,-1.4,-0.6,0.2,1.0,1.9]),(16.2,[-1.7,-0.8,0.4,1.5,2.6]),(16.6,[-1.1,-0.3,0.7,1.3,2.1]),
    (17.0,[-1.6,-0.6,0.2,1.0,1.8]),(17.4,[-2.3,-1.3,-0.4,0.6,1.6,2.3]),(17.8,[-1.0,-0.1,0.8,1.4,2.0]),(18.2,[-1.5,-0.7,0.3,1.2,2.2]),
    (18.6,[-2.1,-1.2,-0.4,0.6,1.5]),(19.0,[-1.7,-0.8,0.0,0.9,1.7,2.5]),(19.4,[-1.3,-0.5,0.4,1.1,1.9]),(19.8,[-2.0,-1.0,-0.1,0.8,1.5,2.2]),
    (20.2,[-1.5,-0.7,0.2,1.0,1.8]),(20.6,[-1.9,-1.1,-0.3,0.5,1.3,2.0]),(21.0,[-1.4,-0.6,0.3,1.2,1.9]),(21.4,[-1.8,-0.9,0.0,0.7,1.5,2.3]),
    (21.8,[-1.2,-0.4,0.5,1.3,2.1]),(22.2,[-1.6,-0.8,0.2,0.9,1.7]),(22.6,[-2.0,-1.1,-0.2,0.6,1.4,2.2]),(23.0,[-1.4,-0.5,0.4,1.1,1.9]),
    (23.4,[-1.7,-0.9,0.1,0.8,1.6,2.4]),(23.8,[-1.2,-0.3,0.6,1.4,2.0]),(24.2,[-1.8,-1.0,-0.1,0.7,1.5]),(24.6,[-1.4,-0.6,0.3,1.1,1.9]),
    (25.0,[-1.6,-0.8,0.0,0.8,1.6,2.2]),(25.4,[-1.1,-0.3,0.5,1.3,2.0]),(25.8,[-1.9,-0.9,0.2,1.0,1.7]),(26.2,[-1.3,-0.5,0.4,1.2,1.9]),
    (26.6,[-1.6,-0.7,0.1,0.9,1.6]),(27.0,[-1.2,-0.4,0.5,1.3,2.1]),(27.4,[-1.5,-0.8,0.0,0.8,1.5]),(27.8,[-1.1,-0.3,0.6,1.4,1.9]),
    (28.2,[-1.7,-0.9,-0.1,0.7,1.5]),(28.6,[-1.3,-0.5,0.3,1.1,1.8]),(29.0,[-1.5,-0.7,0.2,0.9,1.6]),(29.4,[-1.1,-0.3,0.5,1.3,1.9]),
    (29.8,[-1.4,-0.6,0.2,1.0,1.5]),
]
tau_015_cols2 = [
    (8.3,[-2.0,-0.6,0.9,2.2]),(9.0,[-1.6,0.2,1.5,2.6]),(9.9,[-2.4,-1.3,-0.1,1.1,2.2]),(10.8,[-2.0,-0.8,0.4,1.6,2.7]),
    (11.7,[-1.6,-0.2,1.4,2.4]),(12.6,[-2.4,-1.2,0.0,1.0,2.2]),(13.5,[-1.9,-1.1,0.3,1.3,2.0]),(14.4,[-1.3,-0.5,0.6,1.7,2.7]),
    (15.2,[-1.9,-0.9,0.0,0.9,2.0]),(15.6,[-1.4,-0.4,0.5,1.4,2.7]),(16.0,[-1.9,-0.9,0.1,0.8,1.6]),(16.4,[-1.4,-0.5,0.6,1.2,2.2]),
    (16.8,[-2.1,-1.2,-0.2,0.9,1.6]),(17.2,[-1.5,-0.6,0.4,1.2,1.9]),(17.6,[-1.8,-0.8,0.1,0.8,1.6,2.4]),(18.0,[-1.3,-0.4,0.6,1.4,2.1]),
    (18.4,[-1.9,-1.0,-0.1,0.7,1.5]),(18.8,[-1.4,-0.5,0.5,1.2,2.0]),(19.2,[-2.0,-1.2,-0.3,0.6,1.5,2.3]),(19.6,[-1.5,-0.6,0.3,1.0,1.8]),
    (20.0,[-1.8,-0.9,-0.1,0.8,1.3,2.4]),(20.4,[-1.3,-0.4,0.5,1.4,2.0]),(20.8,[-1.7,-0.8,0.0,0.9,1.6]),(21.2,[-1.2,-0.4,0.5,1.1,2.1]),
    (21.6,[-1.6,-0.7,0.2,1.0,1.7]),(22.0,[-1.3,-0.5,0.4,1.2,1.9]),(22.4,[-1.8,-0.9,0.1,0.8,1.5]),(22.8,[-1.2,-0.3,0.6,1.3,2.1]),
    (23.2,[-1.6,-0.7,0.2,1.0,1.8]),(23.6,[-1.3,-0.5,0.4,1.3,1.9]),(24.0,[-1.7,-0.8,0.0,0.9,1.6]),(24.4,[-1.1,-0.3,0.6,1.1,2.1]),
    (24.8,[-1.5,-0.7,0.2,1.0,1.5]),(25.2,[-1.2,-0.4,0.5,1.2,1.9]),(25.6,[-1.7,-0.8,0.0,0.7,1.5]),(26.0,[-1.2,-0.3,0.6,1.4,2.0]),
    (26.4,[-1.5,-0.7,0.3,1.0,1.7]),(26.8,[-1.2,-0.5,0.4,1.1,1.8]),(27.2,[-1.6,-0.6,0.2,0.9,1.6]),(27.6,[-1.3,-0.4,0.5,1.2,1.8]),
    (28.0,[-1.5,-0.7,0.1,0.8,1.5]),(28.4,[-1.1,-0.2,0.6,1.3,1.9]),(28.8,[-1.4,-0.6,0.2,1.0,1.7]),(29.2,[-1.2,-0.4,0.4,1.1,1.8]),
    (29.6,[-1.5,-0.7,0.0,0.8,1.5]),
]

colors = plt.cm.plasma(np.linspace(0, 1, 4))


def merge(pts, *col_lists):
    out = list(pts)
    for cols in col_lists:
        out += [(x, y) for x, ys in cols for y in ys]
    return out


def interleave(series):
    # mix the groups so no colour sits fully on top (like one hue scatter call)
    xs, ys, cs = [], [], []
    n = max(len(s) for s in series)
    for i in range(n):
        for k, s in enumerate(series):
            j = int(i * len(s) / n)
            if i == 0 or int((i - 1) * len(s) / n) != j:
                xs.append(s[j][0])
                ys.append(s[j][1])
                cs.append(colors[k])
    return np.array(xs), np.array(ys), np.array(cs)


def draw(ax, series, xlim, ylim, xlabel, ylabel, yticks):
    x, y, c = interleave(series)
    ax.scatter(x, y, c=c, s=26, alpha=0.7, edgecolors="white", linewidths=0.4, zorder=2)
    ax.axhline(0, color="black", linestyle="--", linewidth=1.1, alpha=0.85, zorder=3)
    ax.set_xlim(*xlim)
    ax.set_ylim(*ylim)
    ax.set_yticks(yticks)
    ax.set_xlabel(xlabel, fontsize=12)
    ax.set_ylabel(ylabel, fontsize=12)
    ax.tick_params(labelsize=12)
    ax.grid(True, color="#cccccc", alpha=0.5, linewidth=0.8, zorder=0)
    ax.set_axisbelow(True)
    handles = [Line2D([], [], marker="o", linestyle="", markersize=5.5, markerfacecolor=colors[k],
                      markeredgecolor="white", markeredgewidth=0.4, alpha=0.7) for k in range(4)]
    labels = [f"$v_{{eff}}$={v}" for v in veff_labels]
    ax.legend(handles, labels, loc="upper right", fontsize=10, framealpha=0.8, edgecolor="#cccccc")


fig = plt.figure(figsize=(12.61, 5.36), dpi=150)
ax1 = fig.add_axes([0.0597, 0.1144, 0.4281, 0.8458])
ax2 = fig.add_axes([0.554, 0.1144, 0.428, 0.8458])

draw(ax1, [merge(re_005, re_005_cols), re_010, merge(re_013, re_013_cols), merge(re_015, re_015_cols)],
     (6, 18), (-4, 6), "True $r_e$ (μm)", "$r_e$ Bias (%)", [-4, -2, 0, 2, 4, 6])
draw(ax2, [merge(tau_005, tau_005_cols, tau_005_cols2), merge(tau_010, tau_010_cols, tau_010_cols2),
           merge(tau_013, tau_013_cols, tau_013_cols2), merge(tau_015, tau_015_cols, tau_015_cols2)],
     (0, 50), (-4, 4), r"True $\tau$", r"$\tau$ Bias (%)", [-4, -2, 0, 2, 4])

fig.text(0.008, 0.975, "(a)", fontsize=14, fontweight="bold", va="top", ha="left")
fig.text(0.505, 0.975, "(b)", fontsize=14, fontweight="bold", va="top", ha="left")

fig.savefig("out.png", dpi=150)
